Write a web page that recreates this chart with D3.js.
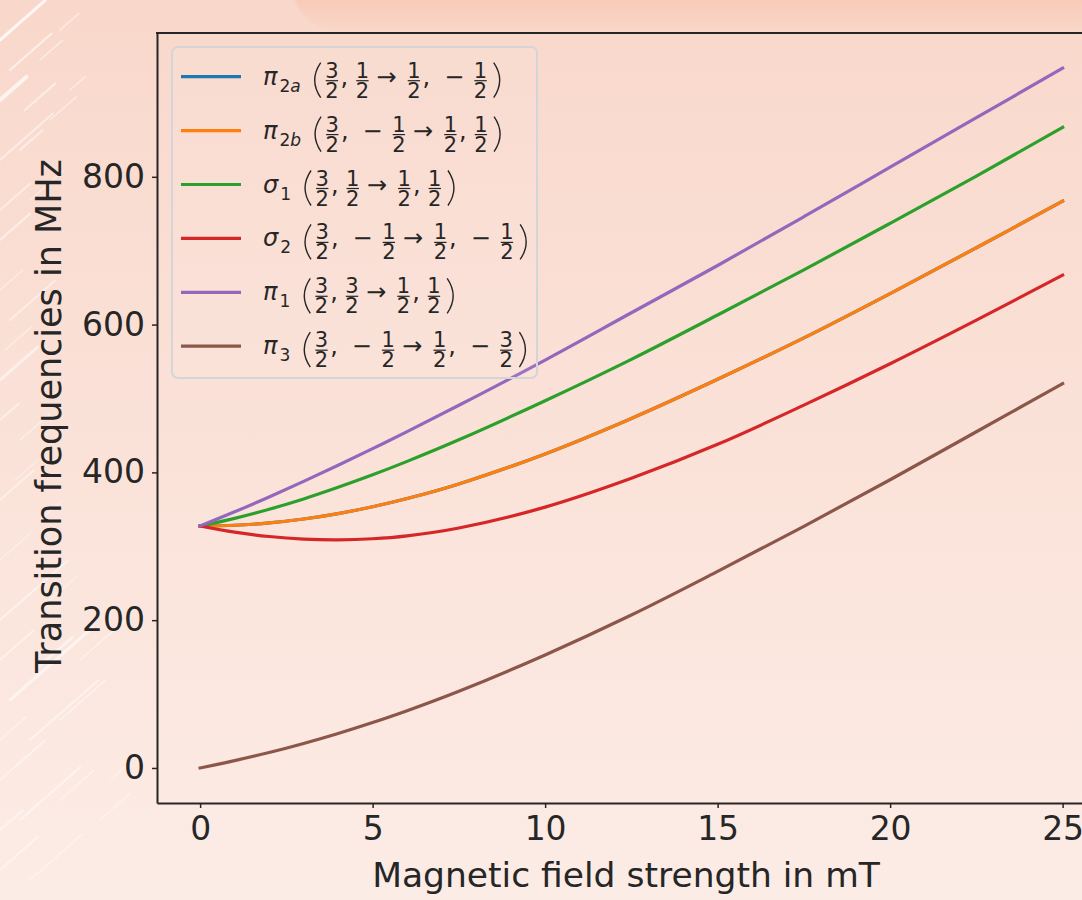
<!DOCTYPE html>
<html>
<head>
<meta charset="utf-8">
<script src="https://cdn.jsdelivr.net/npm/d3@7"></script>
<style>
  body { margin: 0; }
  svg { display: block; font-family: "DejaVu Sans", sans-serif; }
</style>
</head>
<body>
<svg id="chart" width="1082" height="900"></svg>
<script>
// field strength (mT) where the curves were read
var field = [0, 1, 2, 3, 4, 5, 6, 7.5, 10, 12.5, 15, 17.5, 20, 22.5, 25];

// transition frequencies in MHz
var pi2a   = [327.4, 328.5, 331.6, 336.9, 344.2, 353.5, 364.6, 384.4, 425, 473, 526, 582, 642, 704, 767];
var pi2b   = [327.4, 328.5, 331.6, 336.9, 344.2, 353.5, 364.6, 384.4, 425, 473, 526, 582, 642, 704, 767];
var sigma1 = [327.4, 337.8, 350.1, 364.1, 379.8, 396.7, 414.9, 444.1, 497, 553, 613, 674, 737, 801, 867];
var sigma2 = [327.4, 319.1, 313.2, 309.7, 308.7, 310.2, 314.2, 324.8, 353, 392, 438, 491, 547, 606, 667];
var pi1    = [327.4, 346.6, 366.8, 387.8, 409.6, 432.1, 455.2, 490.8, 552, 616, 680, 746, 813, 880, 947];
var pi3    = [0, 9.9, 20.9, 33.2, 46.7, 61.5, 77.5, 103.8, 153, 207, 266, 327, 390, 455, 520];

var xTicks = [0, 5, 10, 15, 20, 25];
var yTicks = [0, 200, 400, 600, 800];

// legend labels: symbol, subscript, (F, mF -> F', mF')
var series = [
  {sym: 'π', sub: '2a', from: ['3/2', '1/2'],  to: ['1/2', '-1/2'], color: '#1f77b4', values: pi2a},
  {sym: 'π', sub: '2b', from: ['3/2', '-1/2'], to: ['1/2', '1/2'],  color: '#ff7f0e', values: pi2b},
  {sym: 'σ', sub: '1',  from: ['3/2', '1/2'],  to: ['1/2', '1/2'],  color: '#2ca02c', values: sigma1},
  {sym: 'σ', sub: '2',  from: ['3/2', '-1/2'], to: ['1/2', '-1/2'], color: '#d62728', values: sigma2},
  {sym: 'π', sub: '1',  from: ['3/2', '3/2'],  to: ['1/2', '1/2'],  color: '#9467bd', values: pi1},
  {sym: 'π', sub: '3',  from: ['3/2', '-1/2'], to: ['1/2', '-3/2'], color: '#8c564b', values: pi3}
];

var ink = '#262626';
var svg = d3.select('#chart');

// ---- background ----
var defs = svg.append('defs');
var bg = defs.append('linearGradient').attr('id', 'bg').attr('x1', 0).attr('y1', 0).attr('x2', 0).attr('y2', 1);
bg.append('stop').attr('offset', '0%').attr('stop-color', '#f9d8cb');
bg.append('stop').attr('offset', '100%').attr('stop-color', '#fcece6');
var blob = defs.append('linearGradient').attr('id', 'blob').attr('x1', 0).attr('y1', 0).attr('x2', 0).attr('y2', 1);
blob.append('stop').attr('offset', '0%').attr('stop-color', '#f5bba1');
blob.append('stop').attr('offset', '70%').attr('stop-color', '#f8ccb9');
blob.append('stop').attr('offset', '100%').attr('stop-color', '#f9d6c8');
defs.append('filter').attr('id', 'soft').append('feGaussianBlur').attr('stdDeviation', 1.5);

svg.append('rect').attr('width', 1082).attr('height', 900).attr('fill', 'url(#bg)');
svg.append('rect').attr('x', 294).attr('y', -60).attr('width', 900).attr('height', 90)
    .attr('rx', 40).attr('fill', 'url(#blob)').attr('filter', 'url(#soft)');

// brush streaks on the left edge: [x, y, length, width, opacity]
var streaks = [
  [0, 40, 60, 3, 0.8], [10, 70, 55, 2, 0.6], [25, 110, 40, 2, 0.5], [0, 100, 35, 4, 0.7],
  [40, 60, 30, 1.5, 0.5], [60, 30, 25, 1.5, 0.5], [0, 160, 70, 2, 0.5], [30, 200, 45, 1.5, 0.4],
  [50, 120, 35, 1.5, 0.45], [70, 90, 20, 1.5, 0.45], [20, 150, 30, 2, 0.5], [0, 210, 40, 2, 0.45],
  [0, 240, 40, 2, 0.5], [10, 320, 60, 2, 0.45], [0, 380, 50, 3, 0.5], [20, 440, 40, 1.5, 0.4],
  [0, 290, 30, 1.5, 0.4], [5, 350, 35, 1.5, 0.4], [0, 420, 25, 2, 0.45], [15, 480, 30, 1.5, 0.35],
  [0, 500, 45, 2, 0.45], [40, 520, 30, 1.5, 0.35], [0, 620, 90, 2, 0.5], [10, 700, 110, 3, 0.55],
  [30, 740, 90, 2, 0.45], [0, 780, 60, 2, 0.4], [60, 720, 60, 1.5, 0.45], [20, 820, 80, 2, 0.45],
  [0, 870, 50, 2, 0.4], [80, 660, 60, 1.5, 0.4], [100, 820, 40, 1.5, 0.35], [30, 880, 70, 1.5, 0.35],
  [0, 560, 40, 1.5, 0.35], [50, 600, 35, 1.5, 0.35], [110, 780, 25, 1.5, 0.3], [0, 660, 45, 2, 0.45],
  [35, 670, 50, 2.5, 0.5], [0, 740, 35, 1.5, 0.4], [60, 800, 45, 1.5, 0.4], [0, 830, 30, 2, 0.4]
];
svg.append('g').selectAll('line').data(streaks).enter().append('line')
    .attr('x1', function(d) { return d[0]; })
    .attr('y1', function(d) { return d[1]; })
    .attr('x2', function(d) { return d[0] + d[2] * Math.cos(0.72); })
    .attr('y2', function(d) { return d[1] - d[2] * Math.sin(0.72); })
    .attr('stroke', '#fff')
    .attr('stroke-width', function(d) { return d[3]; })
    .attr('stroke-linecap', 'round')
    .attr('stroke-opacity', function(d) { return d[4]; });

// ---- scales ----
var x = d3.scaleLinear().domain([-1.25, 26.25]).range([157, 1105.75]);
var y = d3.scaleLinear().domain([-47.4, 994.6]).range([803, 33]);

// ---- curves ----
var line = d3.line()
    .x(function(d) { return x(d[0]); })
    .y(function(d) { return y(d[1]); })
    .curve(d3.curveCatmullRom.alpha(0.5));

svg.append('g').selectAll('path').data(series).enter().append('path')
    .attr('d', function(s) { return line(field.map(function(f, i) { return [f, s.values[i]]; })); })
    .attr('fill', 'none')
    .attr('stroke', function(s) { return s.color; })
    .attr('stroke-width', 3.2)
    .attr('stroke-linecap', 'square');

// ---- axes ----
var xAxis = svg.append('g').attr('transform', 'translate(0,803)')
    .call(d3.axisBottom(x).tickValues(xTicks).tickSize(5).tickSizeOuter(0).tickPadding(9));
var yAxis = svg.append('g').attr('transform', 'translate(157,0)')
    .call(d3.axisLeft(y).tickValues(yTicks).tickSize(5).tickSizeOuter(0).tickPadding(7));

[xAxis, yAxis].forEach(function(a) {
  a.select('.domain').attr('stroke', ink).attr('stroke-width', 2);
  a.selectAll('.tick line').attr('stroke', ink).attr('stroke-width', 1.5);
  a.selectAll('.tick text').attr('fill', ink).style('font-size', '33px')
      .style('font-family', '"DejaVu Sans", sans-serif');
});

// top spine
svg.append('line').attr('x1', 156).attr('x2', 1106).attr('y1', y.range()[1]).attr('y2', y.range()[1])
    .attr('stroke', ink).attr('stroke-width', 2);

// axis titles
svg.append('text').attr('x', 626).attr('y', 887).attr('text-anchor', 'middle')
    .attr('fill', ink).style('font-size', '34.5px').text('Magnetic field strength in mT');
svg.append('text').attr('transform', 'translate(61,416) rotate(-90)').attr('text-anchor', 'middle')
    .attr('fill', ink).style('font-size', '35px').text('Transition frequencies in MHz');

// ---- legend ----
var legend = svg.append('g');
legend.append('rect').attr('x', 172).attr('y', 47).attr('width', 365).attr('height', 331)
    .attr('rx', 6).attr('fill', '#fff').attr('fill-opacity', 0.08)
    .attr('stroke', '#d3d5d8').attr('stroke-width', 2);

function paren(g, x0, cy, open) {
  var a = open ? x0 + 6 : x0 + 1, b = open ? x0 - 6 : x0 + 13;
  g.append('path')
      .attr('d', 'M' + a + ',' + (cy - 14) + 'Q' + b + ',' + (cy + 3.5) + ' ' + a + ',' + (cy + 21))
      .attr('fill', 'none').attr('stroke', ink).attr('stroke-width', 1.4);
}

function frac(g, x0, cy, str) {
  var p = str.split('/');
  var num = g.append('text').attr('y', cy + 1).style('font-size', '21px').attr('fill', ink).text(p[0]);
  var den = g.append('text').attr('y', cy + 21).style('font-size', '21px').attr('fill', ink).text(p[1]);
  var w = Math.max(num.node().getComputedTextLength(), den.node().getComputedTextLength()) + 1;
  num.attr('x', x0 + w / 2).attr('text-anchor', 'middle');
  den.attr('x', x0 + w / 2).attr('text-anchor', 'middle');
  g.append('line').attr('x1', x0 + 1).attr('x2', x0 + w - 1).attr('y1', cy + 4).attr('y2', cy + 4)
      .attr('stroke', ink).attr('stroke-width', 1.2);
  return w;
}

function glyph(g, x0, cy, s) {
  var t = g.append('text').attr('x', x0).attr('y', cy + 8).style('font-size', '24px').attr('fill', ink).text(s);
  return t.node().getComputedTextLength();
}

// a signed fraction such as -1/2
function quantum(g, x0, cy, v) {
  var cx = x0;
  if (v.charAt(0) === '-') {
    cx += 7;
    cx += glyph(g, cx, cy, '−') + 9;
    v = v.slice(1);
  }
  return cx + frac(g, cx, cy, v) - x0;
}

series.forEach(function(s, i) {
  var cy = 76.7 + i * 53.9;
  var g = legend.append('g');
  g.append('line').attr('x1', 181).attr('x2', 241).attr('y1', cy).attr('y2', cy)
      .attr('stroke', s.color).attr('stroke-width', 3.2);

  var cx = 263;
  var sym = g.append('text').attr('x', cx).attr('y', cy + 8).style('font-size', '24px')
      .style('font-style', 'italic').attr('fill', ink).text(s.sym);
  cx += sym.node().getComputedTextLength() + 2;
  var sub = g.append('text').attr('x', cx).attr('y', cy + 15).style('font-size', '17px').attr('fill', ink);
  sub.append('tspan').text(s.sub.charAt(0));
  if (s.sub.length > 1) sub.append('tspan').style('font-style', 'italic').text(s.sub.slice(1));
  cx += sub.node().getComputedTextLength() + 14;

  paren(g, cx, cy, true); cx += 10;
  cx += frac(g, cx, cy, s.from[0]) + 1.5;
  cx += glyph(g, cx, cy, ',') + 7;
  cx += quantum(g, cx, cy, s.from[1]) + 7;
  cx += glyph(g, cx, cy, '→') + 10;
  cx += frac(g, cx, cy, s.to[0]) + 1.5;
  cx += glyph(g, cx, cy, ',') + 7;
  cx += quantum(g, cx, cy, s.to[1]) + 5;
  paren(g, cx, cy, false);
});
</script>
</body>
</html>
